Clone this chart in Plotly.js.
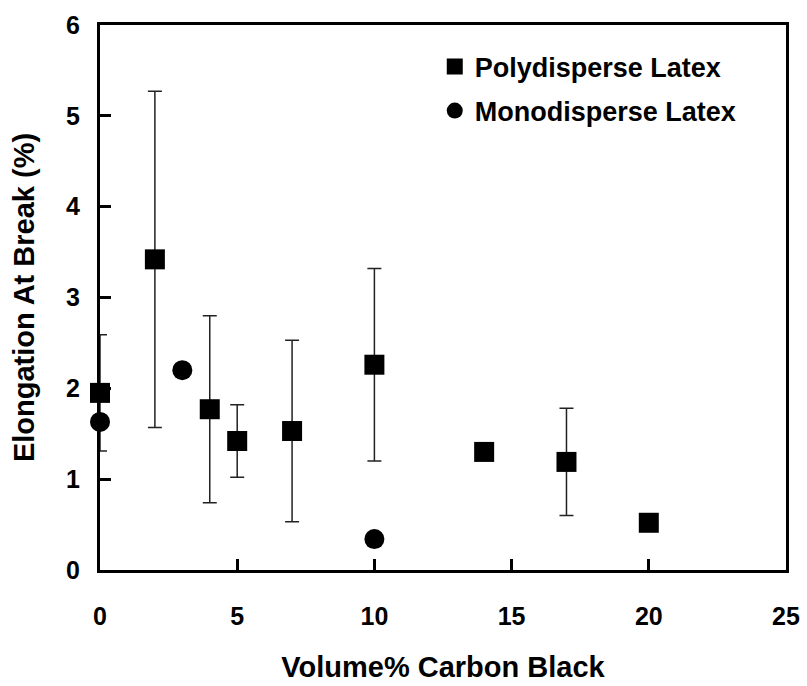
<!DOCTYPE html>
<html>
<head>
<meta charset="utf-8">
<script src="https://cdn.plot.ly/plotly-3.0.1.min.js"></script>
<style>html,body{margin:0;padding:0;background:#fff}#chart{width:807px;height:686px}</style>
</head>
<body>
<div id="chart"></div>
<script>
// Polydisperse latex
const polyX = [0, 2, 4, 5, 7, 10, 14, 17, 20];
const polyY = [1.95, 3.42, 1.77, 1.42, 1.53, 2.26, 1.30, 1.19, 0.52];
const polyErr = [0.64, 1.85, 1.03, 0.40, 1.00, 1.06, 0, 0.59, 0];
// Monodisperse latex
const monoX = [0, 3, 10];
const monoY = [1.63, 2.20, 0.34];
// axis ticks
const xTicks = [0, 5, 10, 15, 20, 25];
const yTicks = [0, 1, 2, 3, 4, 5, 6];

const FONT = 'Liberation Sans, Arial, sans-serif';

const traces = [
  {
    x: polyX, y: polyY, type: 'scatter', mode: 'markers', name: 'Polydisperse Latex',
    legendgroup: 'a', cliponaxis: false,
    marker: {symbol: 'square', size: 20, color: '#000'},
    error_y: {type: 'data', array: polyErr, visible: true, color: '#222', thickness: 1.5, width: 7}
  },
  {
    x: monoX, y: monoY, type: 'scatter', mode: 'markers', name: 'Monodisperse Latex',
    legendgroup: 'b', cliponaxis: false,
    marker: {symbol: 'circle', size: 20, color: '#000'}
  }
];

function axisBase() {
  return {
    showgrid: false, zeroline: false,
    showline: true, linewidth: 3, linecolor: '#000', mirror: true,
    ticks: 'inside', ticklen: 11, tickwidth: 3, tickcolor: '#000',
    tickfont: {family: FONT, size: 25, color: '#000', weight: 'bold'}
  };
}

const layout = {
  width: 807, height: 686,
  margin: {l: 100, r: 21, t: 25, b: 116},
  paper_bgcolor: '#fff', plot_bgcolor: '#fff',
  showlegend: true,
  legend: {
    x: 0.488, y: 0.968, xanchor: 'left', yanchor: 'top',
    bgcolor: 'rgba(0,0,0,0)', borderwidth: 0,
    tracegroupgap: 6,
    font: {family: FONT, size: 27, color: '#000', weight: 'bold'}
  },
  xaxis: Object.assign(axisBase(), {
    range: [0, 25], tickmode: 'array', tickvals: xTicks, ticktext: xTicks.map(String),
    ticklabelstandoff: 22,
    title: {text: 'Volume% Carbon Black', font: {family: FONT, size: 29, color: '#000', weight: 'bold'}, standoff: 28}
  }),
  yaxis: Object.assign(axisBase(), {
    range: [0, 6], tickmode: 'array', tickvals: yTicks, ticktext: yTicks.map(String),
    ticklabelstandoff: 12,
    title: {text: 'Elongation At Break (%)', font: {family: FONT, size: 29, color: '#000', weight: 'bold'}, standoff: 23}
  })
};

Plotly.newPlot('chart', traces, layout, {displayModeBar: false, staticPlot: true});
</script>
</body>
</html>
